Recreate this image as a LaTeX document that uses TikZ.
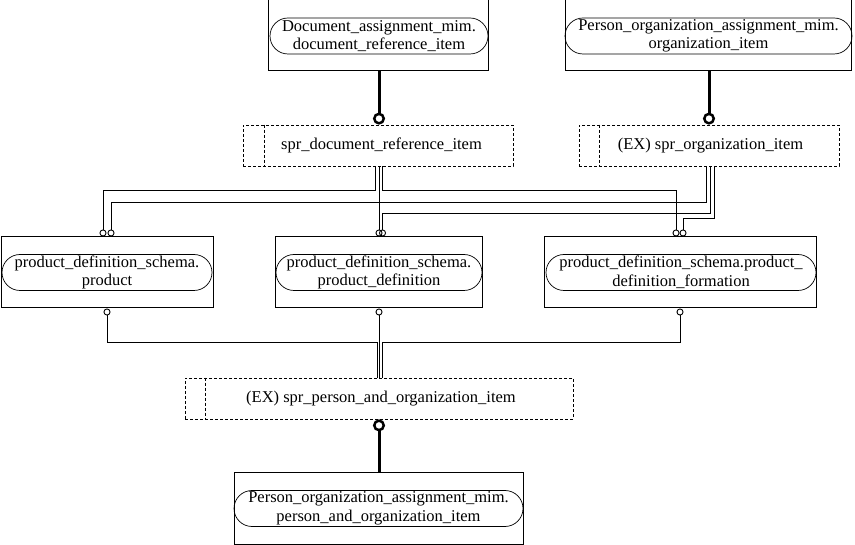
\documentclass[tikz,border=0pt]{standalone}
\usepackage{fontspec}
\setmainfont{Liberation Serif}
\usetikzlibrary{arrows.meta}
\begin{document}
\begin{tikzpicture}[x=1pt,y=-1pt,
  ent/.style={draw, line width=1pt, minimum height=71pt, inner sep=0pt},
  lbl/.style={draw, line width=0.7pt, rounded corners=18pt, minimum height=36pt, inner sep=0pt, align=center, font=\fontsize{16.5}{18.5}\selectfont},
  selbox/.style={draw, line width=0.8pt, dash pattern=on 3pt off 2pt, minimum height=41pt, inner sep=0pt},
  seltext/.style={inner sep=0pt, font=\fontsize{16.5}{18.5}\selectfont},
  selline/.style={line width=0.8pt, dash pattern=on 3pt off 2pt},
  conn/.style={line width=0.9pt},
  thinend/.style={conn, -{Circle[open,length=7pt,width=7pt,line width=0.9pt]}},
  thinstart/.style={conn, {Circle[open,length=7pt,width=7pt,line width=0.9pt]}-},
  thickend/.style={line width=3pt, -{Circle[open,length=12pt,width=12pt,line width=2.5pt]}}
]
\useasboundingbox (0,0) rectangle (855,545);

% top entities
\node[ent, minimum width=220pt] (A) at (378,35.5) {};
\node[lbl, minimum width=218pt] (Al) at (379,36) {Document\_assignment\_mim.\\document\_reference\_item};
\node[ent, minimum width=286pt] (B) at (708,35.5) {};
\node[lbl, minimum width=287pt] (Bl) at (708.5,36) {Person\_organization\_assignment\_mim.\\organization\_item};

% top selects
\node[selbox, minimum width=270pt] (SD) at (378,145.5) {};
\node[seltext] (SDt) at (381.5,145.5) {spr\_document\_reference\_item};
\draw[selline] ([xshift=22pt]SD.north west) -- ([xshift=22pt]SD.south west);
\node[selbox, minimum width=260pt] (SO) at (709,145.5) {};
\node[seltext] (SOt) at (710.5,145.5) {(EX) spr\_organization\_item};
\draw[selline] ([xshift=21pt]SO.north west) -- ([xshift=21pt]SO.south west);

% middle entities
\node[ent, minimum width=212pt] (P1) at (107,272.5) {};
\node[lbl, minimum width=210pt] (P1l) at (107,272.5) {product\_definition\_schema.\\product};
\node[ent, minimum width=207pt] (P2) at (378.5,272.5) {};
\node[lbl, minimum width=206pt] (P2l) at (379,272.5) {product\_definition\_schema.\\product\_definition};
\node[ent, minimum width=272pt] (P3) at (680,272.5) {};
\node[lbl, minimum width=270pt] (P3l) at (681,272.5) {product\_definition\_schema.product\_\\definition\_formation};

% bottom select
\node[selbox, minimum width=388pt] (SP) at (379,398.5) {};
\node[seltext] (SPt) at (381,398.5) {(EX) spr\_person\_and\_organization\_item};
\draw[selline] ([xshift=21pt]SP.north west) -- ([xshift=21pt]SP.south west);

% bottom entity
\node[ent, minimum width=289pt] (E) at (378.5,508.5) {};
\node[lbl, minimum width=289pt] (El) at (378.5,508.5) {Person\_organization\_assignment\_mim.\\person\_and\_organization\_item};

% thick connectors
\draw[thickend] ([xshift=1pt]A.south) -- ([xshift=1pt]A.south |- SD.north);
\draw[thickend] ([xshift=1pt]B.south) -- ([xshift=1pt]B.south |- SO.north);
\draw[thickend] ([xshift=0.5pt]E.north) -- ([xshift=0.5pt]E.north |- SP.south);

% document select bundle
\draw[thinend] ([xshift=-3pt]SD.south) -- ++(0,24) -| ([xshift=-4pt]P1.north);
\draw[thinend] ([xshift=1pt]SD.south) -- ([xshift=1pt]SD.south |- P2.north);
\draw[thinend] ([xshift=4pt]SD.south) -- ++(0,24) -| ([xshift=-4pt]P3.north);

% organization select bundle
\draw[thinend] ([xshift=-3pt]SO.south) -- ++(0,36) -| ([xshift=4pt]P1.north);
\draw[thinend] ([xshift=1pt]SO.south) -- ++(0,47) -| ([xshift=4pt]P2.north);
\draw[thinend] ([xshift=5pt]SO.south) -- ++(0,52) -| ([xshift=3pt]P3.north);

% to bottom select
\draw[thinstart] (P1.south) -- ++(0,34) -| ([xshift=-2pt]SP.north);
\draw[thinstart] ([xshift=0.5pt]P2.south) -- ([xshift=0.5pt]P2.south |- SP.north);
\draw[thinstart] (P3.south) -- ++(0,34) -| ([xshift=3pt]SP.north);
\end{tikzpicture}
\end{document}
